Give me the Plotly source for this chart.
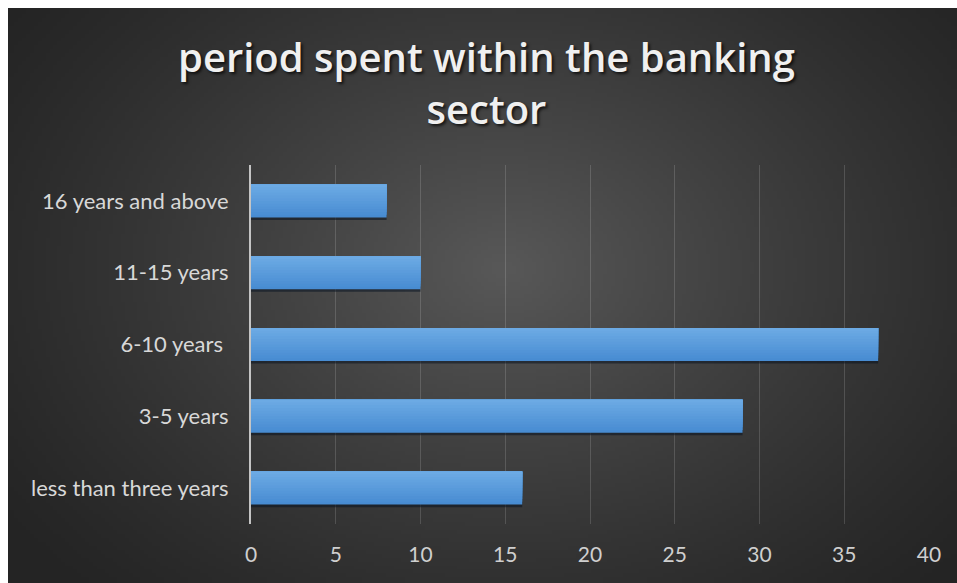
import base64
import struct
import zlib

import numpy as np
import plotly.graph_objects as go

# ---- data -------------------------------------------------------------
categories = [
    "less than three years",
    "3-5 years",
    "6-10 years\u00a0",
    "11-15 years",
    "16 years and above",
]
values = [16, 29, 37, 10, 8]
x_ticks = [0, 5, 10, 15, 20, 25, 30, 35, 40]

TITLE = "period spent within the banking<br>sector"

W, H = 957, 583


# ---- radial dark background as a small PNG ---------------------------
def png_data_uri(rgb):
    h, w, _ = rgb.shape
    raw = b"".join(b"\x00" + rgb[i].tobytes() for i in range(h))

    def chunk(tag, data):
        c = struct.pack(">I", len(data)) + tag + data
        return c + struct.pack(">I", zlib.crc32(tag + data) & 0xFFFFFFFF)

    png = b"\x89PNG\r\n\x1a\n"
    png += chunk(b"IHDR", struct.pack(">IIBBBBB", w, h, 8, 2, 0, 0, 0))
    png += chunk(b"IDAT", zlib.compress(raw, 9))
    png += chunk(b"IEND", b"")
    return "data:image/png;base64," + base64.b64encode(png).decode()


gw, gh = 240, 146
yy, xx = np.mgrid[0:gh, 0:gw].astype(float)
cx, cy = 0.52 * gw, 0.45 * gh
r = np.sqrt(((xx - cx) / (0.64 * gw)) ** 2 + ((yy - cy) / (0.78 * gh)) ** 2)
t = np.clip(1 - r, 0, 1) ** 1.2
edge, center = 36.0, 88.0
val = edge + (center - edge) * t
bg = np.repeat(val[:, :, None], 3, axis=2).round().astype(np.uint8)
bg_uri = png_data_uri(bg)

# ---- figure -----------------------------------------------------------
fig = go.Figure()

bar_w = 0.46
# soft drop shadow under each bar
fig.add_trace(go.Bar(
    y=categories, x=values, orientation="h",
    width=bar_w, offset=-bar_w / 2 - 0.035,
    marker=dict(color="rgba(10,20,35,0.55)", line=dict(width=0)),
    hoverinfo="skip", showlegend=False,
))

# bar body: overlapping layers, each covering from its level up to the top,
# so the colour steps lighter towards the upper edge without seams
n_strips = 12
top_rgb = np.array([108, 170, 228])
bot_rgb = np.array([72, 140, 210])
h = bar_w / n_strips
for i in range(n_strips):
    f = i / (n_strips - 1)
    c = (bot_rgb + (top_rgb - bot_rgb) * f).round().astype(int)
    fig.add_trace(go.Bar(
        y=categories, x=values, orientation="h",
        width=bar_w - i * h, offset=-bar_w / 2 + i * h,
        marker=dict(color=f"rgb({c[0]},{c[1]},{c[2]})", line=dict(width=0)),
        hovertemplate="%{y}: %{x}<extra></extra>", showlegend=False,
    ))

fig.update_layout(
    width=W, height=H,
    barmode="overlay",
    paper_bgcolor="white",
    plot_bgcolor="rgba(0,0,0,0)",
    margin=dict(l=251, r=28, t=165, b=59),
    annotations=[dict(
        text=TITLE, showarrow=False,
        xref="paper", yref="paper",
        x=(486 - 251) / 678, y=1 + (165 - 83) / 359,
        xanchor="center", yanchor="middle", align="center",
        font=dict(family="Open Sans", size=40, color="#f0f0f0", weight=600,
                  shadow="2px 2px 3px rgba(0,0,0,0.7)"),
    )],
    images=[dict(
        source=bg_uri, xref="paper", yref="paper",
        x=-243 / 678, y=1 + 157 / 359,
        sizex=949 / 678, sizey=575 / 359,
        xanchor="left", yanchor="top",
        sizing="stretch", layer="below",
    )],
    xaxis=dict(
        range=[0, 40], tickvals=x_ticks,
        showgrid=True, gridcolor="rgba(255,255,255,0.15)", gridwidth=1,
        zeroline=False, showline=False,
        tickfont=dict(family="Lato", size=21, color="#cfcfcf"),
        ticklabelstandoff=16,
        fixedrange=True,
    ),
    yaxis=dict(
        categoryorder="array", categoryarray=categories,
        showgrid=False, zeroline=False,
        showline=True, linecolor="#c4c4c4", linewidth=2,
        tickfont=dict(family="Lato", size=22, color="#d8d8d8"),
        ticklabelstandoff=16,
        fixedrange=True,
    ),
)

fig.write_html("out.html")
